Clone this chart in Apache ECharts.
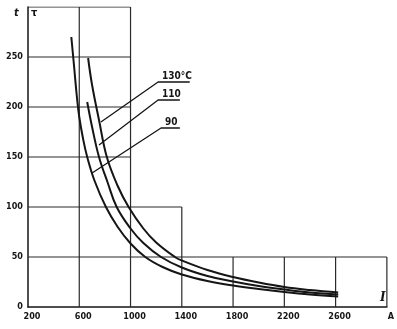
<!DOCTYPE html>
<html>
<head>
<meta charset="utf-8">
<script src="https://cdn.jsdelivr.net/npm/echarts@6/dist/echarts.min.js"></script>
<style>
  html, body { margin: 0; padding: 0; background: #fff; }
  #chart { width: 397px; height: 329px; }
</style>
</head>
<body>
<div id="chart"></div>
<script>
// Current I (A) against time t for three conductor temperatures
const xTicks = [200, 600, 1000, 1400, 1800, 2200, 2600, 3000];
const yTicks = [0, 50, 100, 150, 200, 250, 300];

const curve90 = [
  [538, 270], [560, 240], [580, 212], [600, 190], [630, 168], [662, 150],
  [720, 126], [808, 100], [900, 80], [1000, 63.5], [1115, 50], [1250, 40],
  [1400, 32.5], [1600, 26], [1800, 21.5], [2000, 18], [2200, 15], [2400, 12.5], [2620, 10.5]
];
const curve110 = [
  [662, 205], [700, 180], [754, 150], [820, 125], [892, 100], [1000, 78.5],
  [1100, 64], [1238, 50], [1400, 39.5], [1600, 31], [1800, 25.5], [2000, 21],
  [2200, 17.5], [2400, 14.5], [2620, 12.5]
];
const curve130 = [
  [669, 249], [700, 222], [754, 187], [815, 150], [900, 121], [985, 100],
  [1100, 78.5], [1200, 64.5], [1346, 50], [1400, 46.5], [1600, 37], [1800, 30],
  [2000, 24.5], [2200, 20], [2400, 17], [2620, 14.5]
];

// Leader lines: point on curve -> elbow -> end of underline
const labelNames = ['130°C', '110', '90'];
const leader130 = [[769, 185], [1215, 225], [1462, 225]];
const leader110 = [[754, 162], [1215, 207], [1385, 207]];
const leader90 = [[700, 134], [1238, 179], [1385, 179]];

// Stepped grid: each segment is [[x1, y1], [x2, y2]]
const gridSegments = [
  [[200, 300], [1000, 300]],
  [[200, 250], [1000, 250]],
  [[200, 200], [1000, 200]],
  [[200, 150], [1000, 150]],
  [[200, 100], [1400, 100]],
  [[200, 50], [3000, 50]],
  [[600, 0], [600, 300]],
  [[1000, 0], [1000, 300]],
  [[1400, 0], [1400, 100]],
  [[1800, 0], [1800, 50]],
  [[2200, 0], [2200, 50]],
  [[2600, 0], [2600, 50]],
  [[3000, 0], [3000, 50]]
];

const ink = '#151515';
const font = '"DejaVu Sans Condensed", "DejaVu Sans", sans-serif';

const chart = echarts.init(document.getElementById('chart'), null, { renderer: 'canvas' });

const series = [];
gridSegments.forEach(seg => {
  series.push({
    type: 'line', data: seg, symbol: 'none', silent: true,
    lineStyle: { color: '#2a2a2a', width: 1.2 }, z: 1
  });
});
[curve90, curve110, curve130].forEach(c => {
  series.push({
    type: 'line', data: c, smooth: 0.4, symbol: 'none', silent: true,
    lineStyle: { color: ink, width: 2 }, z: 3
  });
});
const leaders = [leader130, leader110, leader90];
leaders.forEach(l => {
  series.push({
    type: 'line', data: l, symbol: 'none', silent: true,
    lineStyle: { color: ink, width: 1.3 }, z: 2
  });
});
// Curve names written above each underline
series.push({
  type: 'scatter', silent: true, symbolSize: 0, z: 4,
  itemStyle: { color: ink, opacity: 1 },
  data: leaders.map((l, i) => ({ value: l[1], name: labelNames[i] })),
  label: {
    show: true, position: [4, -11], formatter: p => p.name,
    color: ink, fontFamily: font, fontSize: 10, fontWeight: 'bold'
  }
});

chart.setOption({
  animation: false,
  grid: { left: 28, right: 7, top: 7, bottom: 22 },
  xAxis: {
    type: 'value', min: xTicks[0], max: xTicks[xTicks.length - 1], interval: 400,
    axisLine: { show: true, lineStyle: { color: ink, width: 1.5 } },
    axisTick: { show: false },
    splitLine: { show: false },
    axisLabel: {
      color: ink, fontFamily: font, fontSize: 9, fontWeight: 'bold', margin: 5,
      formatter: v => (v === 3000 ? '{a|A}' : '{a|' + v + '}'),
      rich: { a: { padding: [0, 0, 0, 8], fontFamily: font, fontSize: 9, fontWeight: 'bold', color: ink } }
    }
  },
  yAxis: {
    type: 'value', min: yTicks[0], max: yTicks[yTicks.length - 1], interval: 50,
    axisLine: { show: true, lineStyle: { color: ink, width: 1.5 } },
    axisTick: { show: false },
    splitLine: { show: false },
    axisLabel: {
      color: ink, fontFamily: font, fontSize: 9, fontWeight: 'bold', margin: 5,
      formatter: v => (v === 300 ? '' : String(v))
    }
  },
  graphic: [
    { type: 'text', left: 14, top: 8, style: { text: 't', fill: ink, font: 'italic bold 11px ' + font } },
    { type: 'text', left: 31, top: 8, style: { text: 'τ', fill: ink, font: 'bold 11px ' + font } },
    { type: 'text', left: 380, top: 292, style: { text: 'I', fill: ink, font: 'italic bold 12px "DejaVu Serif", serif' } }
  ],
  series
});
</script>
</body>
</html>
